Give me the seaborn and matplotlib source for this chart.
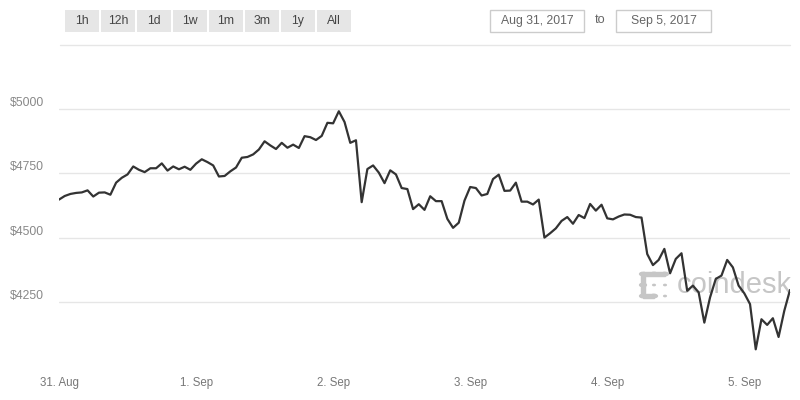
import matplotlib
matplotlib.use("Agg")
import matplotlib.pyplot as plt
import matplotlib.transforms as mtransforms
from matplotlib.patches import Rectangle, Circle
import seaborn as sns
import pandas as pd

# ---------------- data ----------------
start_time = "2017-08-31 00:00"
prices = [
    4648, 4662, 4670, 4674, 4676, 4684, 4660, 4675, 4676, 4667,
    4714, 4733, 4746, 4777, 4764, 4755, 4770, 4770, 4789, 4761,
    4777, 4766, 4776, 4764, 4788, 4805, 4794, 4781, 4738, 4740,
    4758, 4773, 4811, 4814, 4824, 4843, 4875, 4859, 4845, 4869,
    4850, 4862, 4849, 4895, 4891, 4880, 4896, 4947, 4945, 4992,
    4950, 4869, 4879, 4638, 4767, 4781, 4753, 4712, 4762, 4746,
    4693, 4689, 4611, 4630, 4608, 4661, 4642, 4642, 4573, 4538,
    4558, 4644, 4697, 4693, 4664, 4670, 4728, 4745, 4682, 4683,
    4714, 4640, 4640, 4629, 4648, 4500, 4517, 4536, 4565, 4580,
    4554, 4588, 4576, 4631, 4605, 4628, 4575, 4571, 4582, 4590,
    4589, 4580, 4578, 4436, 4393, 4413, 4456, 4361, 4417, 4439,
    4293, 4313, 4287, 4169, 4267, 4339, 4352, 4413, 4384, 4313,
    4283, 4241, 4065, 4182, 4160, 4186, 4113, 4215, 4296,
]
x_tick_dates = ["2017-08-31", "2017-09-01", "2017-09-02", "2017-09-03", "2017-09-04", "2017-09-05"]
x_tick_labels = ["31. Aug", "1. Sep", "2. Sep", "3. Sep", "4. Sep", "5. Sep"]
y_ticks = [4250, 4500, 4750, 5000]
y_tick_labels = ["$4250", "$4500", "$4750", "$5000"]
range_buttons = ["1h", "12h", "1d", "1w", "1m", "3m", "1y", "All"]
date_from = "Aug 31, 2017"
date_to = "Sep 5, 2017"

df = pd.DataFrame({
    "time": pd.date_range(start_time, periods=len(prices), freq="h"),
    "price": prices,
})

# ---------------- style ----------------
sns.set_style("white")
plt.rcParams["font.family"] = ["Liberation Sans", "DejaVu Sans"]

W, H = 800, 400
fig = plt.figure(figsize=(8, 4), dpi=100)
fig.patch.set_facecolor("white")

def fx(px):
    return px / W

def fy(py):
    return (H - py) / H

ax = fig.add_axes([fx(59), fy(366), fx(790) - fx(59), fy(45) - fy(366)])
ax.set_facecolor("none")

sns.lineplot(data=df, x="time", y="price", ax=ax, color="#333333",
             linewidth=1.6, zorder=5)

ax.set_xlim(df["time"].iloc[0], df["time"].iloc[-1])
ax.set_ylim(4000, 5250)
ax.set_xlabel("")
ax.set_ylabel("")
for s in ax.spines.values():
    s.set_visible(False)

ax.set_yticks(y_ticks)
ax.set_yticklabels([])
ax.tick_params(axis="y", length=0)
ax.yaxis.grid(True, color="#e6e6e6", linewidth=1)
ax.xaxis.grid(False)

ax.set_xticks(pd.to_datetime(x_tick_dates))
ax.set_xticklabels(x_tick_labels, fontsize=8.3, color="#777777")
ax.tick_params(axis="x", length=6.5, width=1, color="#ccd6eb", pad=1.5)

# y labels, left aligned, slightly above gridline
trans = mtransforms.blended_transform_factory(fig.transFigure, ax.transData)
off = mtransforms.ScaledTranslation(0, 0.06, fig.dpi_scale_trans)
for v, lab in zip(y_ticks, y_tick_labels):
    fig.text(fx(10), v, lab, transform=trans + off, ha="left", va="center",
             fontsize=8.8, color="#888888")

# watermark
ax.text((677 - 59) / 731, (366 - 293) / 321, "coindesk", transform=ax.transAxes,
        fontsize=21, color="#c6c6c6", ha="left", va="baseline", zorder=1)
logo_col = "#c6c6c6"
big = [(643, 274), (654, 274), (665, 274), (643, 285), (643, 296), (654, 296)]
small = [(654, 285), (665, 285), (665, 296)]
for (px, py) in big:
    fig.add_artist(Circle((fx(px), fy(py)), 3.4 / W, transform=fig.transFigure,
                          color=logo_col, zorder=1))
for (px, py) in small:
    fig.add_artist(Circle((fx(px), fy(py)), 1.3 / W, transform=fig.transFigure,
                          color=logo_col, zorder=1))
fig.add_artist(Rectangle((fx(643), fy(276)), fx(665) - fx(643), 4 / H,
                         transform=fig.transFigure, color=logo_col, zorder=1))
fig.add_artist(Rectangle((fx(641), fy(296)), 4 / W, (296 - 274) / H,
                         transform=fig.transFigure, color=logo_col, zorder=1))
fig.add_artist(Rectangle((fx(643), fy(298)), fx(654) - fx(643), 4 / H,
                         transform=fig.transFigure, color=logo_col, zorder=1))

# range selector buttons
bx = 65
for lab in range_buttons:
    fig.add_artist(Rectangle((fx(bx), fy(32)), 34 / W, 22 / H,
                             transform=fig.transFigure, facecolor="#e6e6e6",
                             edgecolor="none"))
    fig.text(fx(bx + 17), fy(21), lab, ha="center", va="center",
             fontsize=8.8, color="#444444")
    bx += 36

# date inputs
for (x0, x1, lab) in [(490, 584, date_from), (616, 711, date_to)]:
    fig.add_artist(Rectangle((fx(x0), fy(31.5)), (x1 - x0) / W, 21.5 / H,
                             transform=fig.transFigure, facecolor="white",
                             edgecolor="#cccccc", linewidth=1))
    fig.text(fx((x0 + x1) / 2), fy(21), lab, ha="center", va="center",
             fontsize=8.8, color="#666666")
fig.text(fx(600.5), fy(20), "to", ha="center", va="center", fontsize=9.2,
         color="#666666")

# separator line
fig.add_artist(plt.Line2D([fx(60), fx(790)], [fy(45), fy(45)],
                          transform=fig.transFigure, color="#e6e6e6", linewidth=1))

fig.savefig("out.png", dpi=100)
